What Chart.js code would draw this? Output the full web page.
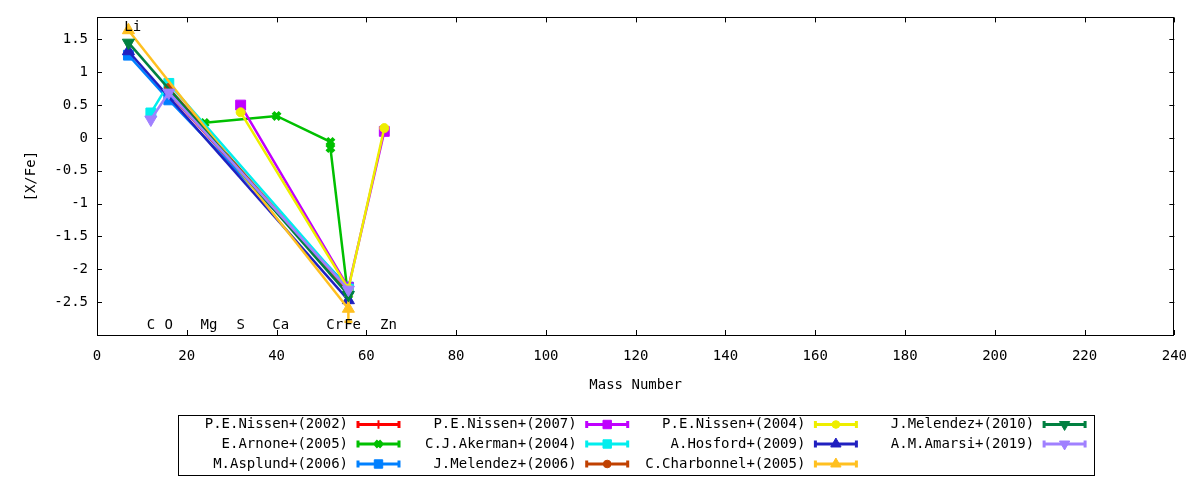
<!DOCTYPE html>
<html><head><meta charset="utf-8">
<script src="https://cdn.jsdelivr.net/npm/chart.js@4/dist/chart.umd.min.js"></script>
<style>html,body{margin:0;padding:0;background:#fff;}#wrap{width:1200px;height:480px;}</style>
</head><body><div id="wrap"><canvas id="c" width="1200" height="480"></canvas></div>
<script>
// ---- data ----
const seriesLabels = ['P.E.Nissen+(2002)','E.Arnone+(2005)','M.Asplund+(2006)','P.E.Nissen+(2007)',
  'C.J.Akerman+(2004)','J.Melendez+(2006)','P.E.Nissen+(2004)','A.Hosford+(2009)',
  'C.Charbonnel+(2005)','J.Melendez+(2010)','A.M.Amarsi+(2019)'];

const nissen2002Mass = [16, 56];          const nissen2002Val = [0.68, -2.33];   const nissen2002Err = [0, 0];
const arnone2005Mass = [24, 40, 52, 52, 56]; const arnone2005Val = [0.23, 0.335, -0.06, -0.155, -2.45]; const arnone2005Err = [0, 0, 0, 0, 0];
const asplund2006Mass = [7, 16, 56];      const asplund2006Val = [1.26, 0.58, -2.27]; const asplund2006Err = [0, 0, 0];
const nissen2007Mass = [32, 56, 64];      const nissen2007Val = [0.50, -2.28, 0.10]; const nissen2007Err = [0, 0, 0];
const akerman2004Mass = [12, 16, 56];     const akerman2004Val = [0.38, 0.83, -2.30]; const akerman2004Err = [0, 0, 0];
const melendez2006Mass = [16, 56];        const melendez2006Val = [0.76, -2.35]; const melendez2006Err = [0, 0];
const nissen2004Mass = [32, 56, 64];      const nissen2004Val = [0.39, -2.30, 0.15]; const nissen2004Err = [0, 0, 0];
const hosford2009Mass = [7, 56];          const hosford2009Val = [1.32, -2.47]; const hosford2009Err = [0, 0];
const charbonnel2005Mass = [7, 56];       const charbonnel2005Val = [1.64, -2.60]; const charbonnel2005Err = [0, 0.2];
const melendez2010Mass = [7, 56];         const melendez2010Val = [1.45, -2.39]; const melendez2010Err = [0, 0];
const amarsi2019Mass = [12, 16, 56];      const amarsi2019Val = [0.28, 0.69, -2.31]; const amarsi2019Err = [0, 0, 0];

const elementNames = ['Li','C','O','Mg','S','Ca','Cr','Fe','Zn'];
const elementMass  = [7, 12, 16, 24, 32, 40, 52, 56, 64];
const elementLabelY = [1.68, -2.86, -2.86, -2.86, -2.86, -2.86, -2.86, -2.86, -2.86];

const xTickValues = [0,20,40,60,80,100,120,140,160,180,200,220,240];
const yTickValues = [1.5,1,0.5,0,-0.5,-1,-1.5,-2,-2.5];

// ---- styles ----
const seriesMass = [nissen2002Mass, arnone2005Mass, asplund2006Mass, nissen2007Mass, akerman2004Mass, melendez2006Mass, nissen2004Mass, hosford2009Mass, charbonnel2005Mass, melendez2010Mass, amarsi2019Mass];
const seriesVal = [nissen2002Val, arnone2005Val, asplund2006Val, nissen2007Val, akerman2004Val, melendez2006Val, nissen2004Val, hosford2009Val, charbonnel2005Val, melendez2010Val, amarsi2019Val];
const seriesErr = [nissen2002Err, arnone2005Err, asplund2006Err, nissen2007Err, akerman2004Err, melendez2006Err, nissen2004Err, hosford2009Err, charbonnel2005Err, melendez2010Err, amarsi2019Err];
const seriesColors = ['#ff0000','#00c000','#0080ff','#c000ff','#00eeee','#c04000','#eeee00','#2020c0','#ffc020','#008040','#a080ff'];
const seriesStyles = ['cross','crossRot','rect','rect','rect','circle','circle','triangle','triangle','triangle','triangle'];
const seriesRot = [0,0,0,0,0,0,0,0,0,180,180];
const seriesRadius = [5,5,7,7,7,4.5,4.5,7,7,7,7];
const seriesPtBorder = [2,4,1,1,1,1,1,1,1,1,1];

const FONT = {family:'DejaVu Sans Mono', size:14};

const datasets = seriesLabels.map((lab,i)=>({
  label: lab,
  data: seriesMass[i].map((m,j)=>({x:m, y:seriesVal[i][j]})),
  borderColor: seriesColors[i],
  backgroundColor: seriesColors[i],
  borderWidth: 2.5,
  pointStyle: seriesStyles[i],
  pointRotation: seriesRot[i],
  pointRadius: seriesRadius[i],
  pointBorderWidth: seriesPtBorder[i],
  pointBackgroundColor: seriesColors[i],
  pointBorderColor: seriesColors[i],
  tension: 0,
  order: seriesLabels.length - i
}));

function drawMarker(ctx, i, x, y){
  ctx.save();
  ctx.fillStyle = seriesColors[i];
  ctx.strokeStyle = seriesColors[i];
  ctx.lineWidth = seriesPtBorder[i];
  Chart.helpers.drawPoint(ctx, {pointStyle:seriesStyles[i], rotation:seriesRot[i], radius:seriesRadius[i]*0.85, borderWidth:seriesPtBorder[i]}, x, y);
  ctx.restore();
}

const errorBarPlugin = {
  id:'errbars',
  afterDatasetDraw(chart, args){
    const i = args.index, meta = args.meta, ctx = chart.ctx, ys = chart.scales.y;
    ctx.save();
    ctx.strokeStyle = seriesColors[i];
    ctx.lineWidth = 2.5;
    meta.data.forEach((pt,j)=>{
      const e = seriesErr[i][j];
      if (!e) return;
      const v = seriesVal[i][j];
      const y1 = ys.getPixelForValue(v+e), y2 = ys.getPixelForValue(v-e);
      ctx.beginPath();
      ctx.moveTo(pt.x, y1); ctx.lineTo(pt.x, y2);
      ctx.moveTo(pt.x-4, y1); ctx.lineTo(pt.x+4, y1);
      ctx.moveTo(pt.x-4, y2); ctx.lineTo(pt.x+4, y2);
      ctx.stroke();
    });
    ctx.restore();
  }
};

const framePlugin = {
  id:'frame',
  afterDraw(chart){
    const ctx = chart.ctx, a = chart.chartArea, xs = chart.scales.x, ys = chart.scales.y;
    ctx.save();
    ctx.strokeStyle = '#000'; ctx.lineWidth = 1;
    ctx.strokeRect(Math.round(a.left)+0.5, Math.round(a.top)+0.5, Math.round(a.right-a.left)-1, Math.round(a.bottom-a.top));
    ctx.beginPath();
    const L = 5;
    xTickValues.forEach(v=>{
      const x = Math.round(xs.getPixelForValue(v))+0.5;
      ctx.moveTo(x, a.bottom); ctx.lineTo(x, a.bottom-L);
      ctx.moveTo(x, a.top); ctx.lineTo(x, a.top+L);
    });
    yTickValues.forEach(v=>{
      const y = Math.round(ys.getPixelForValue(v))+0.5;
      ctx.moveTo(a.left, y); ctx.lineTo(a.left+L, y);
      ctx.moveTo(a.right, y); ctx.lineTo(a.right-L, y);
    });
    ctx.stroke();
    // element labels
    ctx.font = '14px "DejaVu Sans Mono"';
    ctx.fillStyle = '#000';
    ctx.textAlign = 'left';
    ctx.textBaseline = 'middle';
    elementNames.forEach((n,k)=>{
      const cw = ctx.measureText(n[0]).width;
      ctx.fillText(n, xs.getPixelForValue(elementMass[k]) - cw/2, ys.getPixelForValue(elementLabelY[k]));
    });
    // legend
    ctx.strokeStyle = '#000'; ctx.lineWidth = 1;
    ctx.strokeRect(178.5, 415.5, 916, 60);
    const rowsY = [424.5, 444, 464];
    chart.data.datasets.forEach((ds,i)=>{
      const col = Math.floor(i/3), row = i%3;
      const x0 = 357 + col*228.7, x1 = x0 + 43, y = rowsY[row];
      ctx.fillStyle = '#000';
      ctx.textAlign = 'right';
      ctx.fillText(ds.label, x0 - 9, y);
      ctx.strokeStyle = seriesColors[i];
      ctx.lineWidth = 3;
      ctx.beginPath();
      ctx.moveTo(x0, y); ctx.lineTo(x1, y);
      ctx.moveTo(x0+1, y-3.5); ctx.lineTo(x0+1, y+3.5);
      ctx.moveTo(x1-1, y-3.5); ctx.lineTo(x1-1, y+3.5);
      ctx.stroke();
      drawMarker(ctx, i, (x0+x1)/2, y);
    });
    ctx.restore();
  }
};

new Chart(document.getElementById('c'), {
  type:'line',
  data:{datasets},
  options:{
    responsive:false, animation:false, devicePixelRatio:1,
    layout:{padding:{left:0,right:23,top:17,bottom:0}},
    plugins:{legend:{display:false}, tooltip:{enabled:false}},
    scales:{
      x:{
        type:'linear', min:0, max:240,
        afterBuildTicks: s=>{ s.ticks = xTickValues.map(v=>({value:v})); },
        afterFit: s=>{ s.height = 145; },
        ticks:{padding:13, font:FONT, color:'#000', maxRotation:0, autoSkip:false, callback:v=>String(v)},
        grid:{display:false, drawTicks:false},
        border:{display:false},
        title:{display:true, text:'Mass Number', font:FONT, color:'#000', padding:{top:0,bottom:86}}
      },
      y:{
        type:'linear', min:-3, max:1.835,
        afterBuildTicks: s=>{ s.ticks = yTickValues.map(v=>({value:v})); },
        afterFit: s=>{ s.width = 97; },
        ticks:{padding:9, font:FONT, color:'#000', autoSkip:false, callback:v=>String(v)},
        grid:{display:false, drawTicks:false},
        border:{display:false},
        title:{display:true, text:'[X/Fe]', font:FONT, color:'#000', padding:{top:23,bottom:0}}
      }
    }
  },
  plugins:[errorBarPlugin, framePlugin]
});
</script></body></html>
